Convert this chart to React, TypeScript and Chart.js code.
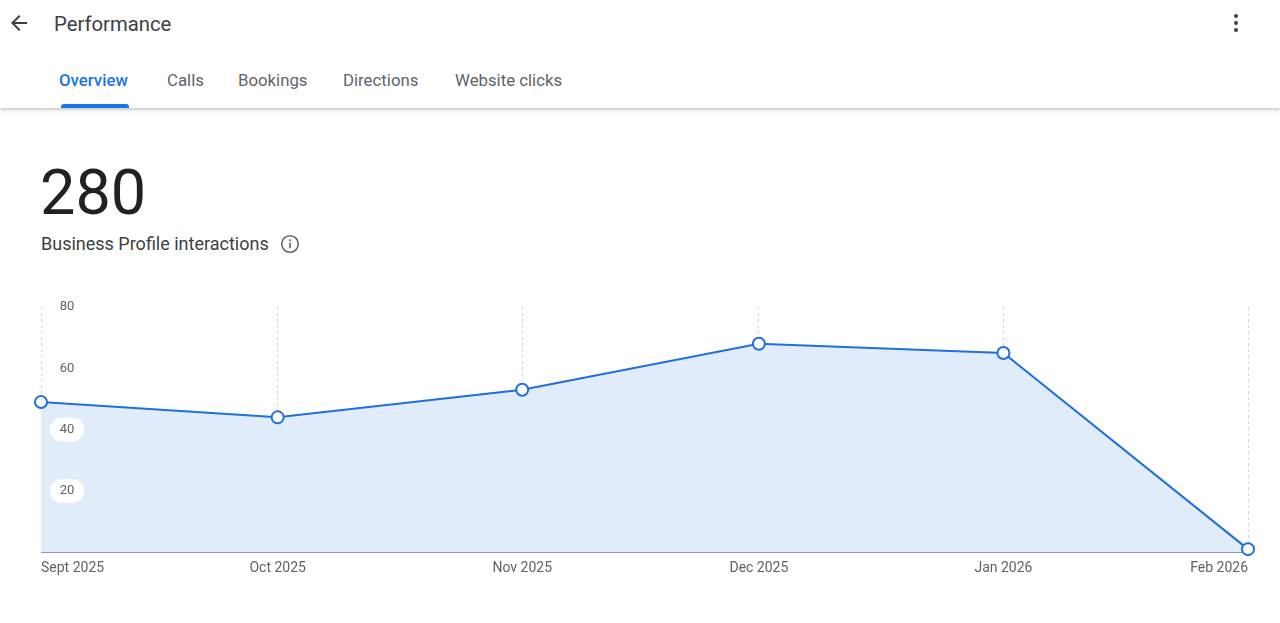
import React, { useEffect, useRef } from "react";
import { Chart, registerables } from "chart.js";

Chart.register(...registerables);

// Data
const monthLabels = ["Sept 2025", "Oct 2025", "Nov 2025", "Dec 2025", "Jan 2026", "Feb 2026"];
const dayOffsets = [0, 30, 61, 91, 122, 153]; // days since 1 Sept 2025
const interactions = [49, 44, 53, 68, 65, 1];
const yTickValues = [20, 40, 60, 80];
const tabLabels = ["Overview", "Calls", "Bookings", "Directions", "Website clicks"];
const totalInteractions = "280";

const FONT = "Roboto, 'Noto Sans', Arial, sans-serif";
const LINE = "#1f6fdc";
const FILL = "#e1ecfb";

const yLabelPlugin = {
  id: "yLabelPills",
  afterDatasetsDraw(chart: any) {
    const { ctx } = chart;
    const y = chart.scales.y;
    const cx = chart.chartArea.left + 26;
    ctx.save();
    ctx.font = `13px ${FONT}`;
    ctx.textAlign = "center";
    ctx.textBaseline = "middle";
    yTickValues.forEach((v) => {
      const py = y.getPixelForValue(v);
      const w = 34;
      const h = 24;
      ctx.fillStyle = "#ffffff";
      ctx.beginPath();
      (ctx as any).roundRect(cx - w / 2, py - h / 2, w, h, 12);
      ctx.fill();
      ctx.fillStyle = "#5f6368";
      ctx.fillText(String(v), cx, py);
    });
    ctx.restore();
  },
};

function PerfChart() {
  const ref = useRef<HTMLCanvasElement>(null);
  useEffect(() => {
    if (!ref.current) return;
    const chart = new Chart(ref.current, {
      type: "line",
      data: {
        datasets: [
          {
            data: dayOffsets.map((d, i) => ({ x: d, y: interactions[i] })),
            borderColor: LINE,
            borderWidth: 2,
            backgroundColor: FILL,
            fill: "origin",
            tension: 0,
            pointRadius: 6,
            pointBorderWidth: 2,
            pointBackgroundColor: "#ffffff",
            pointBorderColor: LINE,
            clip: false as any,
          },
        ],
      },
      options: {
        animation: false,
        responsive: false,
        maintainAspectRatio: false,
        layout: { padding: { left: 41, right: 32, top: 17, bottom: 5 } },
        plugins: { legend: { display: false }, tooltip: { enabled: false } },
        scales: {
          x: {
            type: "linear",
            min: dayOffsets[0],
            max: dayOffsets[dayOffsets.length - 1],
            afterBuildTicks: (scale: any) => {
              scale.ticks = dayOffsets.map((v) => ({ value: v }));
            },
            ticks: {
              align: "inner",
              padding: 8,
              color: "#5f6368",
              font: { family: FONT, size: 14 },
              autoSkip: false,
              maxRotation: 0,
              callback: (value: any) => {
                const i = dayOffsets.indexOf(Number(value));
                return i >= 0 ? monthLabels[i] : "";
              },
            },
            grid: { color: "#d6d9de", lineWidth: 1, drawTicks: false },
            border: { display: true, color: "#8c9bb3", width: 1, dash: [3, 3] },
          },
          y: {
            display: false,
            min: 0,
            max: 80,
          },
        },
      },
      plugins: [yLabelPlugin],
    });
    return () => chart.destroy();
  }, []);
  return (
    <canvas
      ref={ref}
      width={1280}
      height={300}
      style={{ position: "absolute", left: 0, top: 290, width: 1280, height: 300 }}
    />
  );
}

const tabX = [59, 167, 238, 343, 455];

export default function App() {
  return (
    <div
      style={{
        position: "fixed",
        inset: 0,
        width: 1280,
        height: 623,
        background: "#ffffff",
        fontFamily: FONT,
        overflow: "hidden",
      }}
    >
      {/* header */}
      <div
        style={{
          position: "absolute",
          left: 0,
          top: 0,
          width: 1280,
          height: 108,
          background: "#fff",
          boxShadow: "0 2px 3px rgba(60,64,67,0.28)",
          zIndex: 2,
        }}
      >
        <svg width={24} height={24} viewBox="0 0 24 24" style={{ position: "absolute", left: 7, top: 11 }}>
          <path d="M20 11H7.83l5.59-5.59L12 4l-8 8 8 8 1.41-1.41L7.83 13H20v-2z" fill="#3c4043" />
        </svg>
        <div
          style={{
            position: "absolute",
            left: 54,
            top: 12,
            fontSize: 20.3,
            lineHeight: "24px",
            color: "#3c4043",
          }}
        >
          Performance
        </div>
        <svg width={24} height={24} viewBox="0 0 24 24" style={{ position: "absolute", left: 1224, top: 11 }}>
          <circle cx={12} cy={5} r={2} fill="#3c4043" />
          <circle cx={12} cy={12} r={2} fill="#3c4043" />
          <circle cx={12} cy={19} r={2} fill="#3c4043" />
        </svg>
        {tabLabels.map((t, i) => (
          <div
            key={t}
            style={{
              position: "absolute",
              left: tabX[i],
              top: 70,
              fontSize: 16.8,
              lineHeight: "20px",
              fontWeight: i === 0 ? 500 : 400,
              color: i === 0 ? "#1a73e8" : "#5f6368",
              whiteSpace: "nowrap",
            }}
          >
            {t}
          </div>
        ))}
        <div
          style={{
            position: "absolute",
            left: 61,
            top: 104,
            width: 68,
            height: 4,
            background: "#1a73e8",
            borderRadius: "3px 3px 0 0",
          }}
        />
      </div>

      {/* total */}
      <div
        style={{
          position: "absolute",
          left: 40,
          top: 161,
          fontSize: 63,
          lineHeight: "63px",
          color: "#202124",
        }}
      >
        {totalInteractions}
      </div>
      <div
        style={{
          position: "absolute",
          left: 41,
          top: 235,
          fontSize: 18,
          lineHeight: "18px",
          color: "#3c4043",
          whiteSpace: "nowrap",
        }}
      >
        Business Profile interactions
      </div>
      <svg width={20} height={20} viewBox="0 0 20 20" style={{ position: "absolute", left: 280, top: 234 }}>
        <circle cx={10} cy={10} r={8.3} fill="none" stroke="#5f6368" strokeWidth={1.5} />
        <rect x={9.2} y={8.6} width={1.6} height={5.6} fill="#5f6368" />
        <circle cx={10} cy={6.3} r={1} fill="#5f6368" />
      </svg>

      <PerfChart />
    </div>
  );
}
